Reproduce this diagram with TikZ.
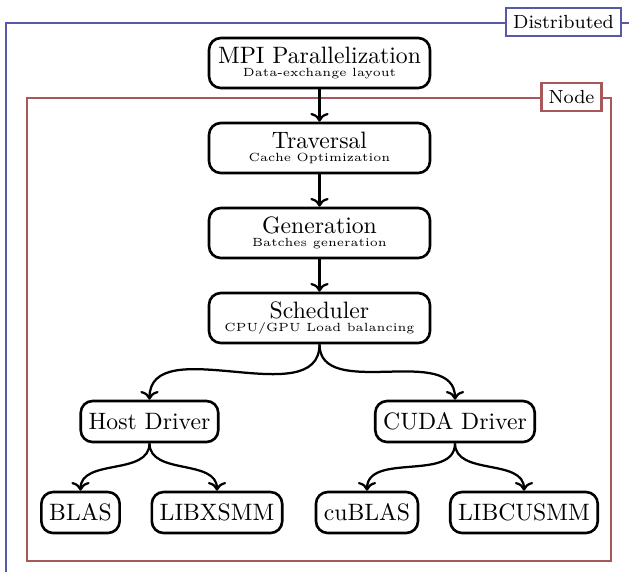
\documentclass[tikz,border=0pt]{standalone}
\usetikzlibrary{arrows.meta}
\definecolor{distcol}{RGB}{88,88,168}
\definecolor{nodecol}{RGB}{168,88,88}
\tikzset{
  stage/.style={draw, line width=1.1pt, rounded corners=5pt, align=center, minimum width=93.2pt, minimum height=21.1pt, inner sep=1pt},
  leaf/.style={draw, line width=1.1pt, rounded corners=5pt, minimum height=17.3pt, inner xsep=3.33pt},
  flow/.style={->, line width=0.95pt},
  framelabel/.style={draw, line width=0.9pt, fill=white, font=\footnotesize, inner sep=3pt},
}
\begin{document}
\begin{tikzpicture}[x=0.4218pt, y=-0.4218pt]
\useasboundingbox (0,0) rectangle (629,571);
\begin{scope}
\clip (0,0) rectangle (629,571);
\draw[distcol, line width=0.9pt] (6,23) rectangle (700,700);
\end{scope}
\node[framelabel, draw=distcol] (distlabel) at (563.5,22) {Distributed};
\draw[nodecol, line width=0.9pt] (27,98) rectangle (611,561);
\node[framelabel, draw=nodecol] (nodelabel) at (571.5,97) {Node};

\node[stage] (mpi) at (319.5,63) {MPI Parallelization\\[-6.6pt]{\tiny Data-exchange layout}};
\node[stage] (trav) at (319.5,148) {Traversal\\[-6.6pt]{\tiny Cache Optimization}};
\node[stage] (gen) at (319.5,233) {Generation\\[-6.6pt]{\tiny Batches generation}};
\node[stage] (sched) at (319.5,318) {Scheduler\\[-6.6pt]{\tiny CPU/GPU Load balancing}};

\node[leaf] (host) at (149.5,421.5) {Host Driver};
\node[leaf] (cuda) at (455,421.5) {CUDA Driver};
\node[leaf] (blas) at (80.5,512.5) {BLAS};
\node[leaf] (xsmm) at (217,512.5) {LIBXSMM};
\node[leaf] (cublas) at (367,512.5) {cuBLAS};
\node[leaf] (cusmm) at (524,512.5) {LIBCUSMM};

\draw[flow] (mpi) -- (trav);
\draw[flow] (trav) -- (gen);
\draw[flow] (gen) -- (sched);
\draw[flow] (sched.south) to[out=-90, in=90] (host.north);
\draw[flow] (sched.south) to[out=-90, in=90] (cuda.north);
\draw[flow] (host.south) to[out=-90, in=90] (blas.north);
\draw[flow] (host.south) to[out=-90, in=90] (xsmm.north);
\draw[flow] (cuda.south) to[out=-90, in=90] (cublas.north);
\draw[flow] (cuda.south) to[out=-90, in=90] (cusmm.north);
\end{tikzpicture}
\end{document}
